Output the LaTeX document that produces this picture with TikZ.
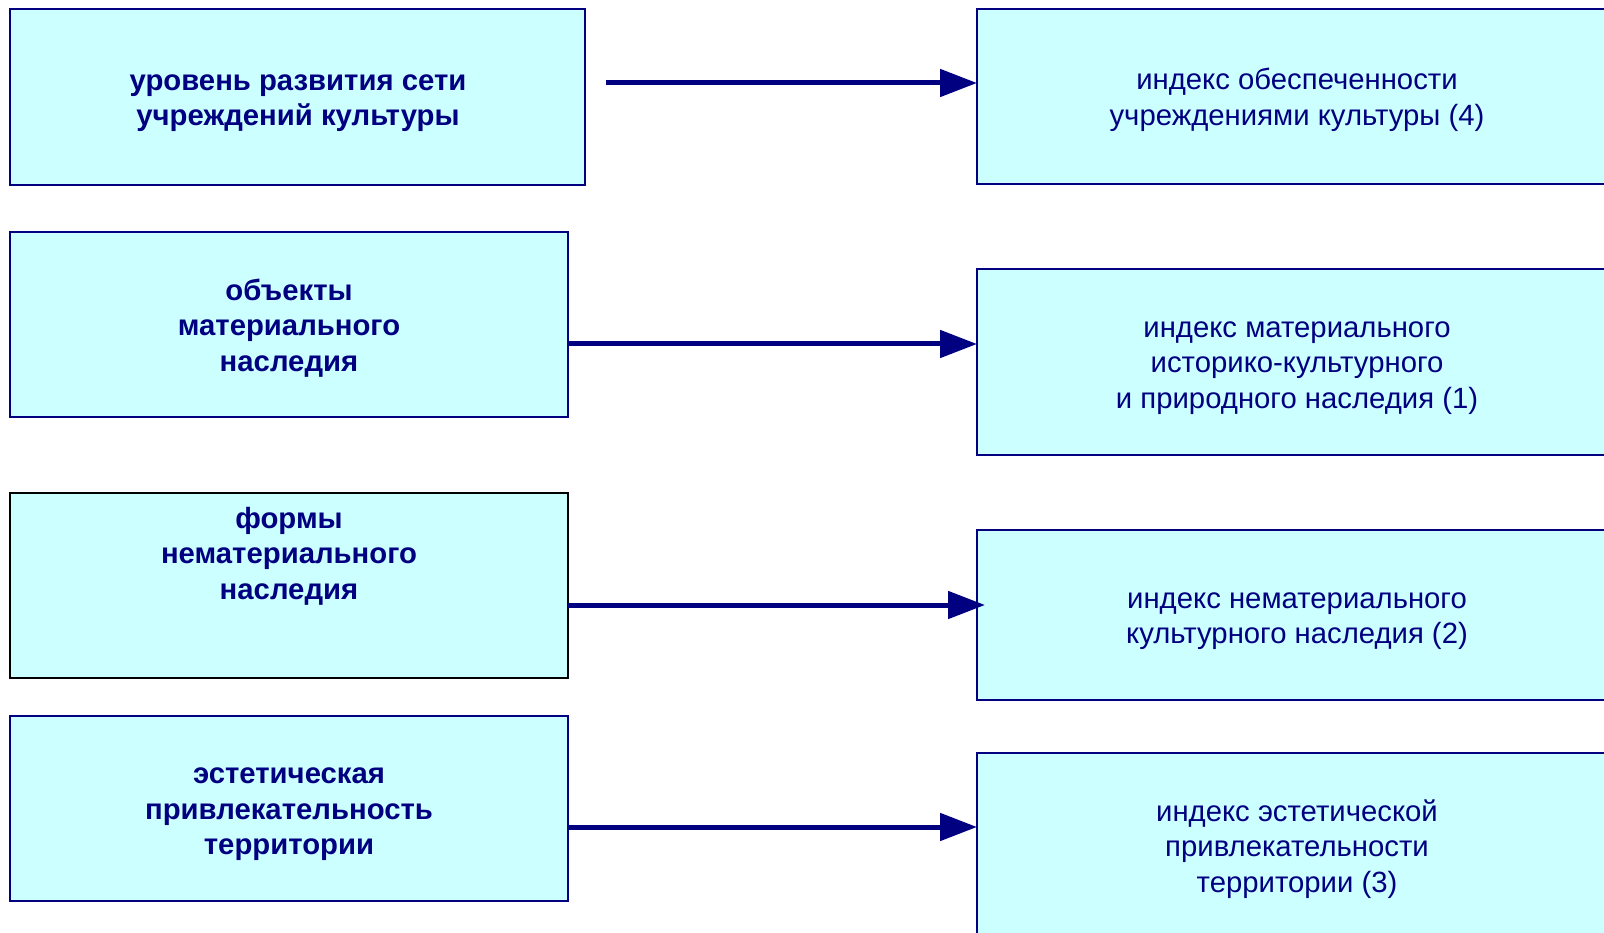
\documentclass[tikz,border=0pt]{standalone}
\usepackage{fontspec}
\setmainfont{Liberation Sans}
\usetikzlibrary{arrows.meta}
\definecolor{navy}{HTML}{000080}
\definecolor{boxfill}{HTML}{CCFFFF}
\begin{document}
\begin{tikzpicture}[x=1pt,y=-1pt,
  box/.style={draw=navy, fill=boxfill, line width=2pt, inner sep=0pt, outer sep=0pt, anchor=north west},
  blackbox/.style={box, draw=black},
  lefttext/.style={text=navy, align=center, font=\bfseries\fontsize{29.3}{35.5}\selectfont},
  righttext/.style={text=navy, align=center, font=\fontsize{29.3}{35.5}\selectfont},
  conn/.style={draw=navy, line width=5pt, -{Triangle[length=37pt,width=27pt]}}]
\useasboundingbox (0,0) rectangle (1604,933);
% left boxes
\node[box, minimum width=575pt, minimum height=176pt] (l1) at (10,9) {};
\node[box, minimum width=558pt, minimum height=185pt] (l2) at (10,232) {};
\node[blackbox, minimum width=558pt, minimum height=185pt] (l3) at (10,493) {};
\node[box, minimum width=558pt, minimum height=185pt] (l4) at (10,716) {};
% right boxes
\node[box, minimum width=643pt, minimum height=175pt] (r1) at (977,9) {};
\node[box, minimum width=643pt, minimum height=186pt] (r2) at (977,269) {};
\node[box, minimum width=643pt, minimum height=170pt] (r3) at (977,530) {};
\node[box, minimum width=643pt, minimum height=210pt] (r4) at (977,753) {};
% texts
\node[lefttext] (t1) at (298,103) {уровень развития сети\\учреждений культуры};
\node[lefttext] (t2) at (289,328) {объекты\\материального\\наследия};
\node[lefttext] (t3) at (289,556) {формы\\нематериального\\наследия};
\node[lefttext] (t4) at (289,814.5) {эстетическая\\привлекательность\\территории};
\node[righttext] (u1) at (1297,100) {индекс обеспеченности\\учреждениями культуры (4)};
\node[righttext] (u2) at (1297,368) {индекс материального\\историко-культурного\\и природного наследия (1)};
\node[righttext] (u3) at (1297,621) {индекс нематериального\\культурного наследия (2)};
\node[righttext] (u4) at (1297,849) {индекс эстетической\\привлекательности\\территории (3)};
% connectors
\coordinate (s1) at (606,83);
\draw[conn] (s1) -- (s1 -| r1.west);
\draw[conn] (l2.east |- 0,344) -- (r2.west |- 0,344);
\draw[conn, shorten >=-8pt] (l3.east |- 0,605) -- (r3.west |- 0,605);
\draw[conn] (l4.east |- 0,827) -- (r4.west |- 0,827);
\end{tikzpicture}
\end{document}
